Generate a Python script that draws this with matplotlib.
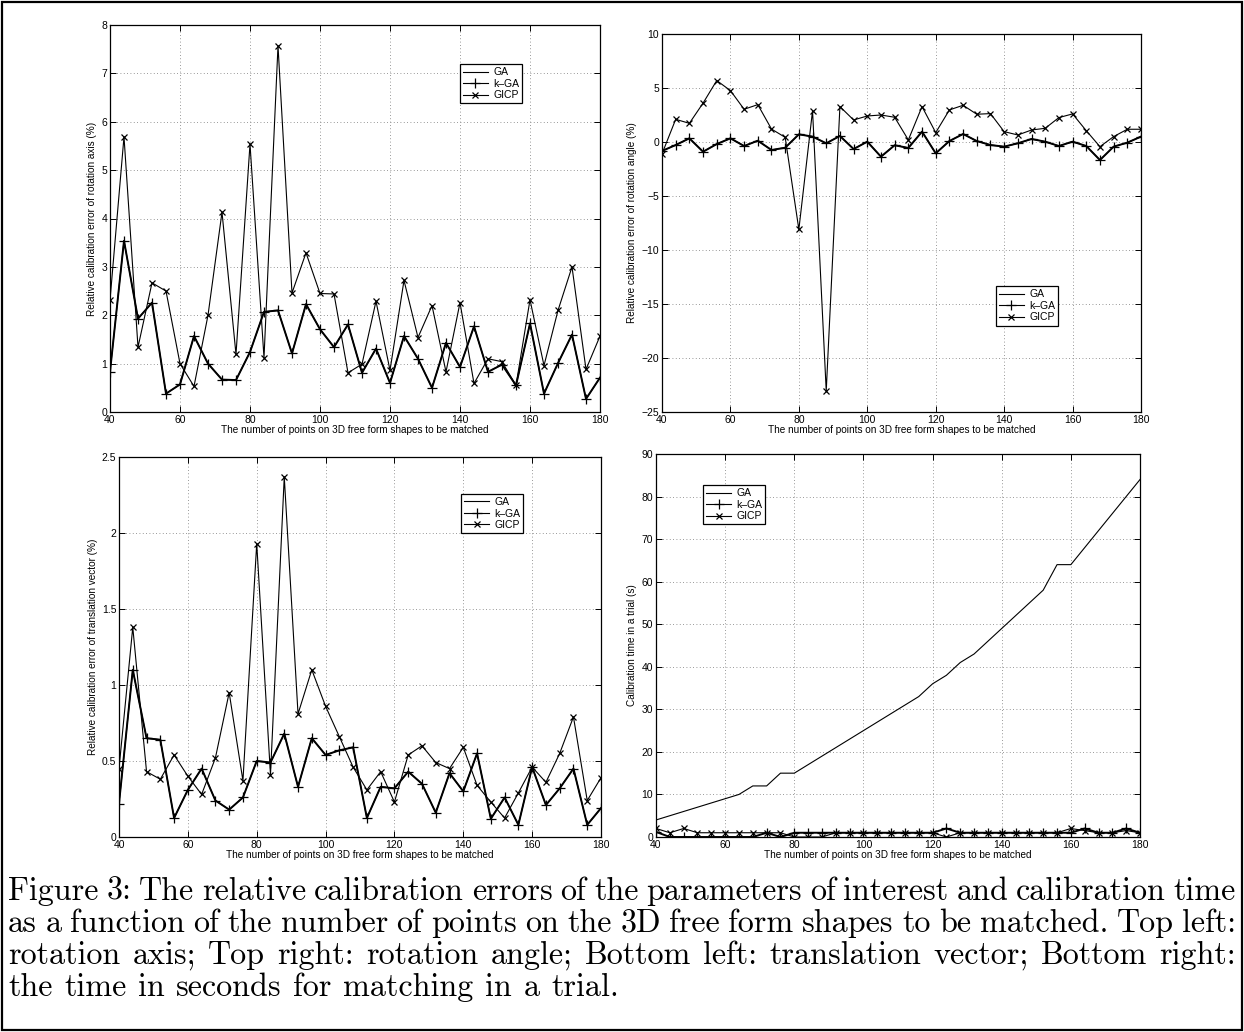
import matplotlib
matplotlib.use("Agg")
import matplotlib.pyplot as plt
from matplotlib.lines import Line2D
from matplotlib.patches import Rectangle

# ---------------- data ----------------
n_points = [40, 44, 48, 52, 56, 60, 64, 68, 72, 76, 80, 84, 88, 92, 96, 100, 104, 108,
            112, 116, 120, 124, 128, 132, 136, 140, 144, 148, 152, 156, 160, 164, 168, 172, 176, 180]

# Top left: rotation axis error (%)
ga_axis = [0.83, 3.54, 1.93, 2.26, 0.38, 0.57, 1.57, 1.0, 0.67, 0.66, 1.24, 2.07, 2.10, 1.21, 2.23, 1.71, 1.34, 1.81,
           0.81, 1.31, 0.6, 1.57, 1.10, 0.5, 1.43, 0.93, 1.77, 0.83, 0.98, 0.55, 1.83, 0.38, 1.01, 1.6, 0.27, 0.71]
kga_axis = [0.83, 3.54, 1.93, 2.26, 0.38, 0.57, 1.57, 1.0, 0.67, 0.66, 1.24, 2.07, 2.10, 1.21, 2.23, 1.71, 1.34, 1.81,
            0.81, 1.31, 0.6, 1.57, 1.10, 0.5, 1.43, 0.93, 1.77, 0.83, 0.98, 0.55, 1.83, 0.38, 1.01, 1.6, 0.27, 0.71]
gicp_axis = [2.31, 5.69, 1.34, 2.67, 2.50, 1.0, 0.53, 2.0, 4.13, 1.19, 5.54, 1.12, 7.57, 2.46, 3.29, 2.45, 2.44, 0.81,
             0.99, 2.29, 0.86, 2.72, 1.54, 2.2, 0.83, 2.26, 0.59, 1.10, 1.04, 0.55, 2.32, 0.96, 2.1, 3.0, 0.88, 1.57]

# Top right: rotation angle error (%)
ga_angle = [-0.83, -0.28, 0.34, -0.9, -0.19, 0.34, -0.37, 0.12, -0.74, -0.53, 0.71, 0.5, -0.12, 0.56, -0.65, 0.03, -1.36, -0.3,
            -0.55, 0.96, -1.05, 0.09, 0.74, 0.09, -0.28, -0.43, -0.12, 0.28, 0.03, -0.37, 0.03, -0.37, -1.67, -0.43, -0.06, 0.5]
kga_angle = [-0.83, -0.28, 0.34, -0.9, -0.19, 0.34, -0.37, 0.12, -0.74, -0.53, 0.71, 0.5, -0.12, 0.56, -0.65, 0.03, -1.36, -0.3,
             -0.55, 0.96, -1.05, 0.09, 0.74, 0.09, -0.28, -0.43, -0.12, 0.28, 0.03, -0.37, 0.03, -0.37, -1.67, -0.43, -0.06, 0.5]
gicp_angle = [-1.1, 2.1, 1.73, 3.6, 5.69, 4.76, 3.03, 3.46, 1.2, 0.43, -8.1, 2.9, -23.05, 3.28, 2.04, 2.41, 2.5, 2.29,
              0.19, 3.28, 0.87, 2.97, 3.4, 2.57, 2.63, 0.96, 0.65, 1.11, 1.27, 2.26, 2.6, 1.05, -0.43, 0.5, 1.18, 1.18]

# Bottom left: translation vector error (%)
ga_trans = [0.22, 1.10, 0.65, 0.64, 0.125, 0.31, 0.45, 0.24, 0.18, 0.26, 0.50, 0.49, 0.68, 0.33, 0.65, 0.54, 0.57, 0.59,
            0.125, 0.33, 0.32, 0.43, 0.35, 0.16, 0.42, 0.30, 0.55, 0.12, 0.26, 0.08, 0.46, 0.21, 0.32, 0.45, 0.08, 0.19]
kga_trans = [0.22, 1.10, 0.65, 0.64, 0.125, 0.31, 0.45, 0.24, 0.18, 0.26, 0.50, 0.49, 0.68, 0.33, 0.65, 0.54, 0.57, 0.59,
             0.125, 0.33, 0.32, 0.43, 0.35, 0.16, 0.42, 0.30, 0.55, 0.12, 0.26, 0.08, 0.46, 0.21, 0.32, 0.45, 0.08, 0.19]
gicp_trans = [0.45, 1.38, 0.43, 0.38, 0.54, 0.40, 0.28, 0.52, 0.95, 0.37, 1.93, 0.41, 2.37, 0.81, 1.10, 0.86, 0.66, 0.46,
              0.31, 0.43, 0.23, 0.54, 0.60, 0.49, 0.45, 0.59, 0.34, 0.23, 0.125, 0.29, 0.46, 0.36, 0.55, 0.79, 0.24, 0.39]

# Bottom right: calibration time (s)
ga_time = [4, 5, 6, 7, 8, 9, 10, 12, 12, 15, 15, 17, 19, 21, 23, 25, 27, 29,
           31, 33, 36, 38, 41, 43, 46, 49, 52, 55, 58, 64, 64, 68, 72, 76, 80, 84]
kga_time = [1.2, 0, 0, 0, 0, 0, 0, 0, 1, 0, 1, 1, 1, 1, 1, 1, 1, 1,
            1, 1, 1, 2, 1, 1, 1, 1, 1, 1, 1, 1, 1, 2, 1, 1, 2, 1]
gicp_time = [2, 1, 2, 1, 1, 1, 1, 1, 1, 1, 0, 0, 0, 1, 1, 1, 1, 1,
             1, 1, 1, 0, 1, 1, 1, 1, 1, 1, 1, 1, 2, 1.5, 1, 1, 1.5, 1]

series_names = ["GA", "k\u2013GA", "GICP"]
x_ticks = [40, 60, 80, 100, 120, 140, 160, 180]
xlabel = "The number of points on 3D free form shapes to be matched"

panels = [
    dict(ga=ga_axis, kga=kga_axis, gicp=gicp_axis, ylim=(0, 8), yticks=list(range(0, 9)),
         ylabel="Relative calibration error of rotation axis (%)",
         rect_px=(110, 25, 600, 412), leg=(0.714, 0.899)),
    dict(ga=ga_angle, kga=kga_angle, gicp=gicp_angle, ylim=(-25, 10), yticks=[-25, -20, -15, -10, -5, 0, 5, 10],
         ylabel="Relative calibration error of rotation angle (%)",
         rect_px=(662, 34, 1141, 412), leg=(0.697, 0.333)),
    dict(ga=ga_trans, kga=kga_trans, gicp=gicp_trans, ylim=(0, 2.5), yticks=[0, 0.5, 1, 1.5, 2, 2.5],
         ylabel="Relative calibration error of translation vector (%)",
         rect_px=(119, 457, 601, 837), leg=(0.7095, 0.903)),
    dict(ga=ga_time, kga=kga_time, gicp=gicp_time, ylim=(0, 90), yticks=list(range(0, 91, 10)),
         ylabel="Calibration time in a trial (s)",
         rect_px=(656, 454, 1140, 837), leg=(0.097, 0.919)),
]

caption_lines = [
    "Figure 3: The relative calibration errors of the parameters of interest and calibration time",
    "as a function of the number of points on the 3D free form shapes to be matched. Top left:",
    "rotation axis; Top right: rotation angle; Bottom left: translation vector; Bottom right:",
    "the time in seconds for matching in a trial.",
]

# ---------------- figure ----------------
W, H = 1244, 1032
plt.rcParams['font.family'] = ['Liberation Sans', 'DejaVu Sans']
fig = plt.figure(figsize=(W / 100, H / 100), dpi=100)
fig.patch.set_facecolor('white')


def fmt(v):
    s = ('%g' % v)
    return s.replace('-', '\u2212')


for p in panels:
    l, t, r, b = p['rect_px']
    ax = fig.add_axes([l / W, 1 - b / H, (r - l) / W, (b - t) / H])
    ax.plot(n_points, p['kga'], color='black', lw=1.4, marker='+', ms=6.5, mew=0.9, zorder=3)
    ax.plot(n_points, p['ga'], color='black', lw=0.8, zorder=4)
    ax.plot(n_points, p['gicp'], color='black', lw=0.8, marker='x', ms=4.8, mew=0.9, zorder=3)
    ax.set_xlim(40, 180)
    ax.set_ylim(*p['ylim'])
    ax.set_xticks(x_ticks)
    ax.set_xticklabels([fmt(v) for v in x_ticks])
    ax.set_yticks(p['yticks'])
    ax.set_yticklabels([fmt(v) for v in p['yticks']])
    ax.grid(True, color='#777777', linestyle=(0, (1, 3)), lw=0.6)
    ax.tick_params(direction='in', top=True, right=True, length=4, width=0.7,
                   labelsize=7.5, pad=2)
    for s in ax.spines.values():
        s.set_linewidth(0.9)
    ax.set_xlabel(xlabel, fontsize=7.2, labelpad=0)
    ax.set_ylabel(p['ylabel'], fontsize=7.2, labelpad=3)
    handles = [Line2D([], [], color='black', lw=0.8),
               Line2D([], [], color='black', lw=0.8, marker='+', ms=6.5, mew=0.9),
               Line2D([], [], color='black', lw=0.8, marker='x', ms=4.8, mew=0.9)]
    leg = ax.legend(handles, series_names, loc='upper left', bbox_to_anchor=p['leg'],
                    fontsize=7.5, frameon=True, fancybox=False, framealpha=1,
                    edgecolor='black', borderpad=0.3, labelspacing=0.15,
                    handlelength=2.4, handletextpad=0.5, borderaxespad=0)
    leg.get_frame().set_linewidth(0.9)

# page border
fig.add_artist(Rectangle((2 / W, 2 / H), (W - 4) / W, (H - 4) / H, transform=fig.transFigure,
                         fill=False, edgecolor='black', lw=1.6))

# ---------------- caption (justified) ----------------
renderer = fig.canvas.get_renderer()
left_px, right_px = 8, 1236
line_base = [900, 932, 964, 996]
cap_family = ['cmr10', 'DejaVu Serif']
fit_space_em = 0.24
last_space_em = 0.36


def word_widths(line, size):
    out = []
    for w in line.split(' '):
        tt = fig.text(0, 0, w, family=cap_family, size=size)
        out.append(tt.get_window_extent(renderer).width)
        tt.remove()
    return out


# choose a font size so that the widest justified line fits with (slightly shrunk) word spacing
ref_size = 20.0
naturals = []
for line in caption_lines[:-1]:
    ws = word_widths(line, ref_size)
    naturals.append(sum(ws) + (len(ws) - 1) * fit_space_em * ref_size * 100 / 72)
cap_size = ref_size * (right_px - left_px) / max(naturals)

for i, line in enumerate(caption_lines):
    y = 1 - line_base[i] / H
    words = line.split(' ')
    texts = [fig.text(0, y, w, va='baseline', ha='left', family=cap_family, size=cap_size)
             for w in words]
    widths = [tt.get_window_extent(renderer).width for tt in texts]
    if i < len(caption_lines) - 1:
        gap = (right_px - left_px - sum(widths)) / (len(words) - 1)
    else:
        gap = last_space_em * cap_size * 100 / 72
    x = left_px
    for tt, w in zip(texts, widths):
        tt.set_x(x / W)
        x += w + gap

fig.savefig('out.png', dpi=100, facecolor='white')
